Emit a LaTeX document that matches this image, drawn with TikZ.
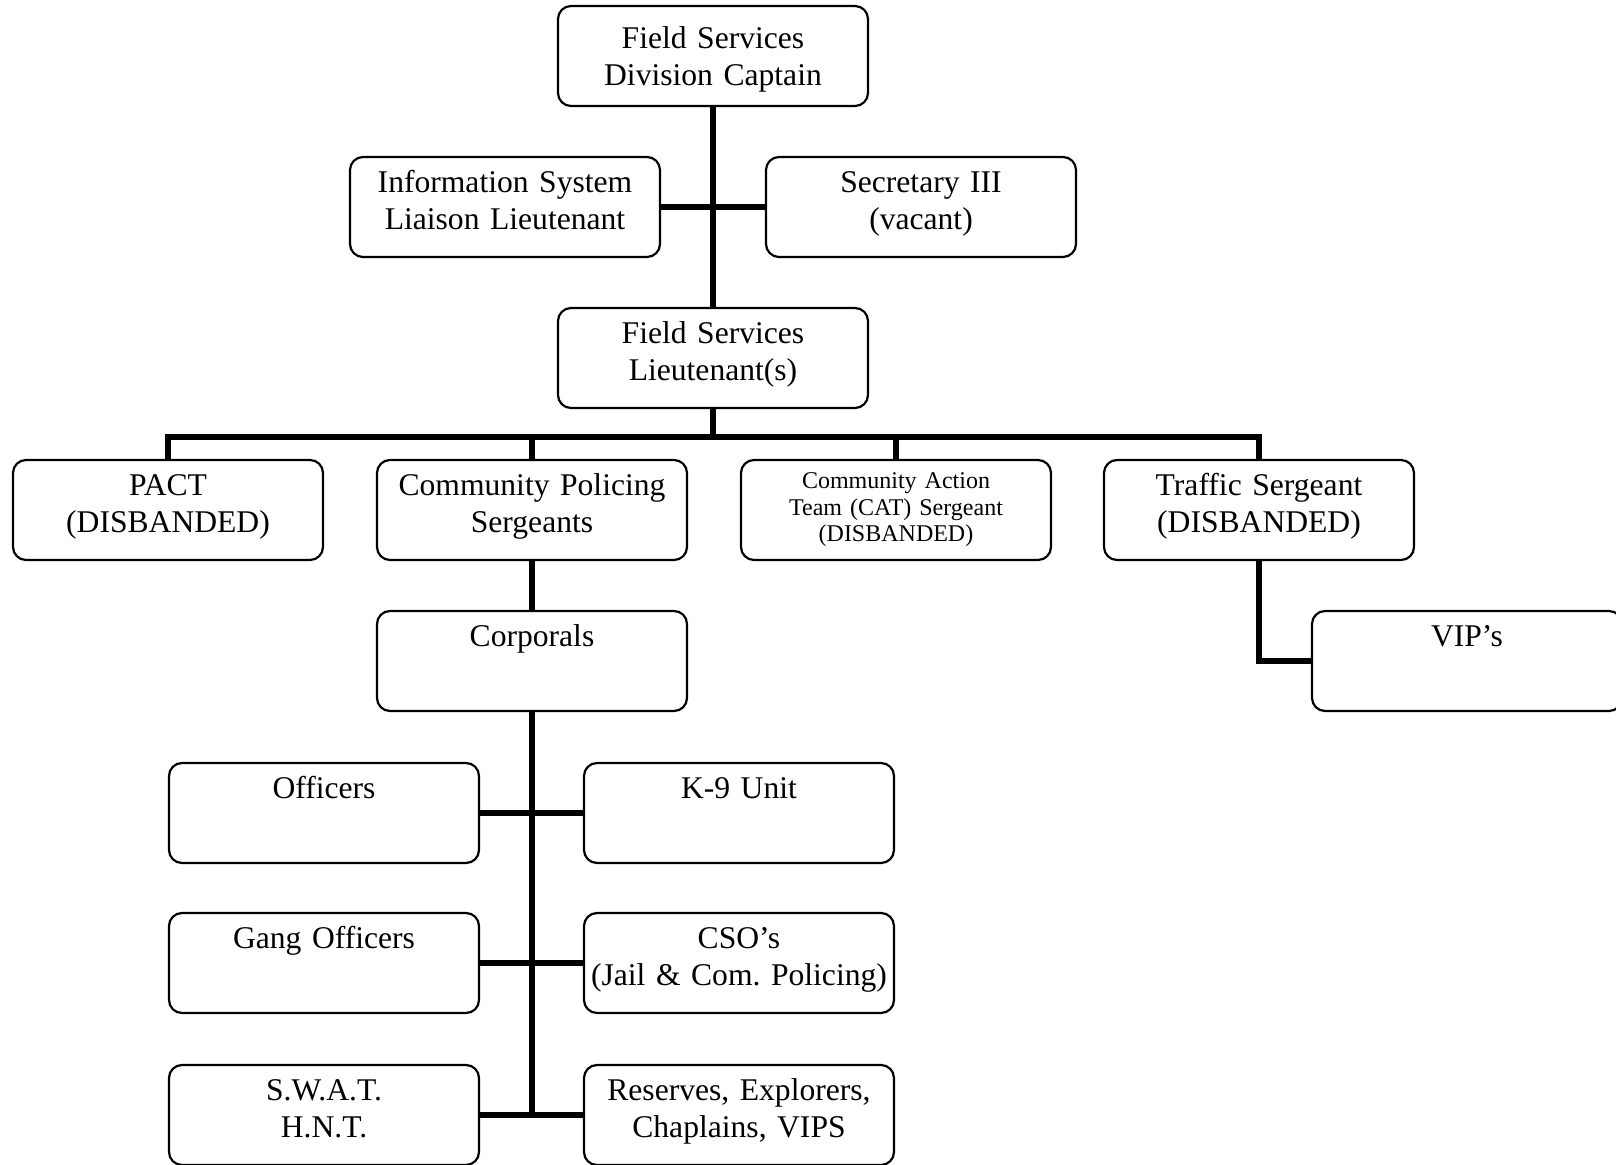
\documentclass[tikz,border=0pt]{standalone}
\usepackage{fontspec}
\setmainfont{Liberation Serif}
\frenchspacing

\begin{document}
\begin{tikzpicture}[x=0.5pt, y=-0.5pt,
    post/.style={draw, rounded corners=6.5pt, line width=1.1pt,
      text width=155pt, inner xsep=0pt, inner ysep=0pt, align=center,
      text height=17.7pt, text depth=32.3pt,
      font=\fontsize{15.8}{18.4}\selectfont},
    small/.style={font=\fontsize{12}{13.3}\selectfont,
      text height=14.3pt, text depth=35.7pt},
    link/.style={line width=2.7pt}]
  \useasboundingbox (0,0) rectangle (1616,1165);

  % command staff
  \node[post, text height=21.5pt, text depth=28.5pt] (cap) at (713,56) {Field Services\\Division Captain};
  \node[post] (info) at (505,207) {Information System\\Liaison Lieutenant};
  \node[post] (sec) at (921,207) {Secretary III\\(vacant)};
  \node[post] (lt) at (713,358) {Field Services\\Lieutenant(s)};
  \coordinate (bus) at (713,437);

  % sergeants
  \node[post] (pact) at (168,510) {PACT\\(DISBANDED)};
  \node[post] (cps) at (532,510) {Community Policing\\Sergeants};
  \node[post, small] (cat) at (896,510) {Community Action\\Team (CAT) Sergeant\\(DISBANDED)};
  \node[post] (traffic) at (1259,510) {Traffic Sergeant\\(DISBANDED)};
  \node[post] (corp) at (532,661) {Corporals};
  \node[post] (vip) at (1467,661) {VIP’s};

  % units under the corporals
  \node[post] (off) at (324,813) {Officers};
  \node[post] (k9) at (739,813) {K-9 Unit};
  \node[post] (gang) at (324,963) {Gang Officers};
  \node[post] (cso) at (739,963) {CSO’s\\(Jail \& Com. Policing)};
  \node[post] (swat) at (324,1115) {S.W.A.T.\\H.N.T.};
  \node[post] (res) at (739,1115) {Reserves, Explorers,\\Chaplains, VIPS};

  \draw[link] (cap.south) -- (lt.north);
  \draw[link] (info.east) -- (sec.west);
  \draw[link] (lt.south) -- (bus);
  \draw[link] (pact.north) |- (bus) -| (traffic.north);
  \foreach \n in {cps,cat}
    \draw[link] (\n.north) -- (\n.north |- bus);
  \draw[link] (traffic.south) |- (vip.west);
  \draw[link] (cps.south) -- (corp.north);
  \draw[link] (corp.south) -- (corp.south |- swat.east);
  \draw[link] (off.east) -- (k9.west);
  \draw[link] (gang.east) -- (cso.west);
  \draw[link] (swat.east) -- (res.west);
\end{tikzpicture}
\end{document}
